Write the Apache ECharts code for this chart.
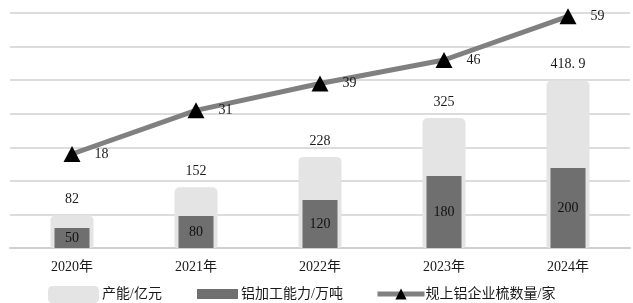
<!DOCTYPE html>
<html><head><meta charset="utf-8">
<script src="https://cdn.jsdelivr.net/npm/echarts@6/dist/echarts.min.js"></script>
<style>html,body{margin:0;padding:0;background:#fff}#c{width:633px;height:303px}</style>
</head><body><div id="c"></div>
<script>
const categories = ['2020年','2021年','2022年','2023年','2024年'];
const capacityValues = [82, 152, 228, 325, 418.9];
const capacityLabels = ['82','152','228','325','418. 9'];
const processingValues = [50, 80, 120, 180, 200];
const enterpriseValues = [18, 31, 39, 46, 59];
const seriesNames = ['产能/亿元','铝加工能力/万吨','规上铝企业梳数量/家'];

const FONT = '"Liberation Serif","Noto Sans CJK SC",serif';
const chart = echarts.init(document.getElementById('c'));
chart.setOption({
  animation: false,
  textStyle: {fontFamily: FONT},
  grid: {left: 10, right: 3, top: 13, bottom: 55},
  legend: [
    {data: [{name: seriesNames[0], icon: 'roundRect'}], left: 43, top: 281, itemWidth: 51, itemHeight: 17, itemGap: 0,
     textStyle: {fontFamily: FONT, fontSize: 14, color: '#1a1a1a', padding: [0,0,0,-2]}},
    {data: [{name: seriesNames[1], icon: 'rect'}], left: 192, top: 282, itemWidth: 41, itemHeight: 10,
     textStyle: {fontFamily: FONT, fontSize: 14, color: '#1a1a1a', padding: [0,0,0,-2]}},
    {data: [{name: seriesNames[2]}], left: 370, top: 282, itemWidth: 47, itemHeight: 14,
     lineStyle: {width: 5, color: '#808080'},
     textStyle: {fontFamily: FONT, fontSize: 14, color: '#1a1a1a', padding: [0,0,0,-4]}}
  ],
  xAxis: [
    {type: 'category', data: categories, axisTick: {show: false},
     axisLine: {lineStyle: {color: '#d0d0d0', width: 2}},
     axisLabel: {fontFamily: FONT, fontSize: 14, color: '#1a1a1a', margin: 12}},
    {type: 'category', data: categories, show: false}
  ],
  yAxis: [
    {type: 'value', min: 0, max: 588, show: false, splitLine: {show: false}},
    {type: 'value', min: -10, max: 60, interval: 10, axisLabel: {show: false}, axisLine: {show: false}, axisTick: {show: false},
     splitLine: {lineStyle: {color: '#dcdcdc', width: 2}}}
  ],
  series: [
    {name: seriesNames[0], type: 'bar', xAxisIndex: 0, yAxisIndex: 0, data: capacityValues, barWidth: 43,
     itemStyle: {color: '#e4e4e4', borderRadius: [5,5,3,3]},
     label: {show: true, position: 'top', distance: 9, fontFamily: FONT, fontSize: 14, color: '#1a1a1a',
       formatter: p => capacityLabels[p.dataIndex]}, z: 2},
    {name: seriesNames[1], type: 'bar', xAxisIndex: 1, yAxisIndex: 0, data: processingValues, barWidth: 35,
     itemStyle: {color: '#6f6f6f'},
     label: {show: true, position: 'inside', fontFamily: FONT, fontSize: 14, color: '#111'}, z: 3},
    {name: seriesNames[2], type: 'line', xAxisIndex: 0, yAxisIndex: 1, data: enterpriseValues,
     lineStyle: {color: '#808080', width: 5}, itemStyle: {color: '#000'},
     symbol: 'triangle', symbolSize: [17,16],
     label: {show: true, position: 'right', distance: 14, fontFamily: FONT, fontSize: 14, color: '#1a1a1a'}, z: 4}
  ]
});
</script></body></html>
